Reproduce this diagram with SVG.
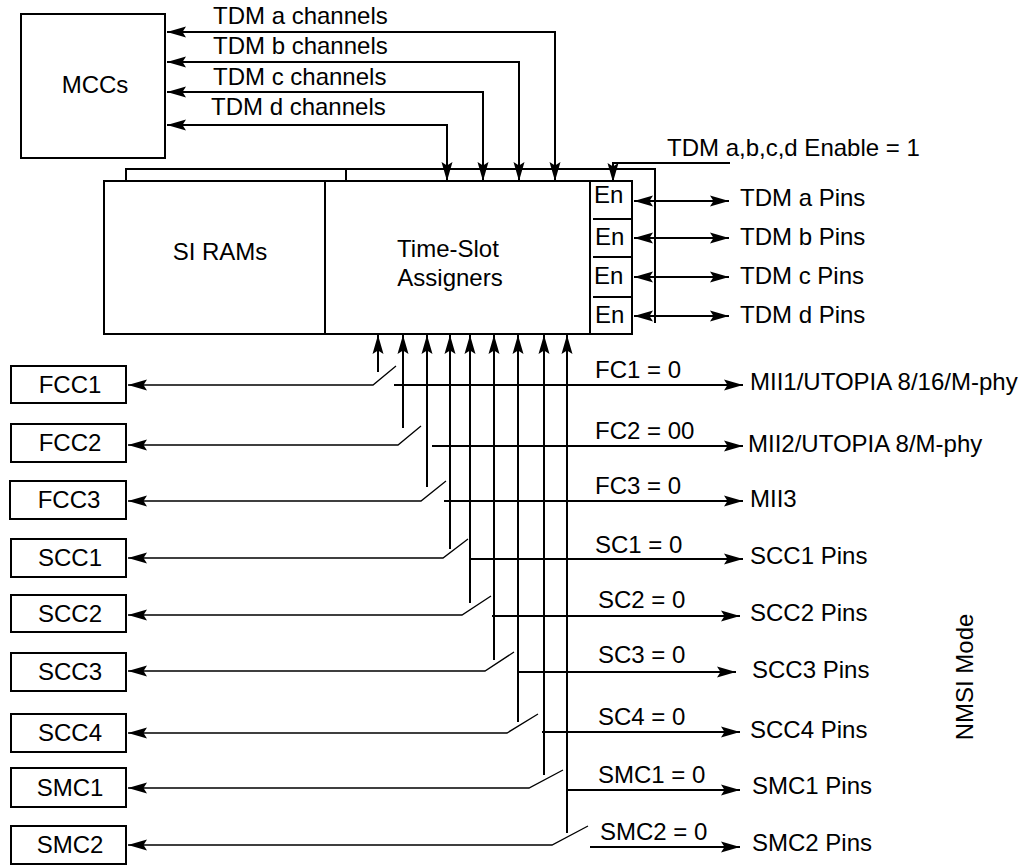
<svg xmlns="http://www.w3.org/2000/svg" width="1021" height="865" viewBox="0 0 1021 865">
<style>
text{font-family:"Liberation Sans",Arial,Helvetica,sans-serif;font-size:24px;fill:#000}
.box{fill:#fff;stroke:#000;stroke-width:2}
.ln{fill:none;stroke:#000;stroke-width:2}
.thin{fill:none;stroke:#000;stroke-width:1.3}
.mid{text-anchor:middle}
</style>
<defs>
<marker id="ah" markerUnits="userSpaceOnUse" markerWidth="20" markerHeight="12" refX="19" refY="6" orient="auto-start-reverse" viewBox="0 0 20 12">
<path d="M0,0.5 L19,6 L0,11.5 L3.5,6 Z" fill="#000"/>
</marker>
</defs>
<rect width="1021" height="865" fill="#fff"/>

<g id="mccs">
<rect class="box" x="21" y="14" width="144" height="144"/>
<text x="95" y="93" class="mid">MCCs</text>
</g>

<g id="main-block">
<rect class="box" x="104" y="181" width="528" height="153"/>
<line class="ln" x1="325" y1="181" x2="325" y2="334"/>
<line class="ln" x1="590" y1="181" x2="590" y2="334"/>
<text x="220" y="260" class="mid">SI RAMs</text>
<text x="448" y="257" class="mid">Time-Slot</text>
<text x="450" y="286" class="mid">Assigners</text>
</g>

<g id="enable-cells">
<line class="ln" x1="593" y1="219" x2="632" y2="219"/>
<line class="ln" x1="593" y1="257" x2="632" y2="257"/>
<line class="ln" x1="593" y1="297" x2="632" y2="297"/>
<text x="594" y="203">En</text>
<text x="595" y="245">En</text>
<text x="594" y="284">En</text>
<text x="595" y="323">En</text>
</g>

<g id="fcc1"><rect class="box" x="11" y="366" width="115" height="37"/><text x="70" y="393" class="mid">FCC1</text></g>
<g id="fcc2"><rect class="box" x="11" y="424" width="115" height="38"/><text x="70" y="451" class="mid">FCC2</text></g>
<g id="fcc3"><rect class="box" x="10" y="481" width="116" height="38"/><text x="69" y="508" class="mid">FCC3</text></g>
<g id="scc1"><rect class="box" x="11" y="539" width="115" height="38"/><text x="70" y="566" class="mid">SCC1</text></g>
<g id="scc2"><rect class="box" x="11" y="595" width="115" height="37"/><text x="70" y="622" class="mid">SCC2</text></g>
<g id="scc3"><rect class="box" x="11" y="653" width="115" height="38"/><text x="70" y="680" class="mid">SCC3</text></g>
<g id="scc4"><rect class="box" x="11" y="714" width="115" height="38"/><text x="70" y="741" class="mid">SCC4</text></g>
<g id="smc1"><rect class="box" x="11" y="768" width="115" height="39"/><text x="70" y="796" class="mid">SMC1</text></g>
<g id="smc2"><rect class="box" x="11" y="826" width="115" height="38"/><text x="70" y="853" class="mid">SMC2</text></g>

<g id="connectors">
<!-- TDM channels -->
<path class="ln" d="M167,32 H555 V181" marker-start="url(#ah)" marker-end="url(#ah)"/>
<path class="ln" d="M167,62 H519 V181" marker-start="url(#ah)" marker-end="url(#ah)"/>
<path class="ln" d="M167,92 H483 V181" marker-start="url(#ah)" marker-end="url(#ah)"/>
<path class="ln" d="M167,125 H447 V181" marker-start="url(#ah)" marker-end="url(#ah)"/>
<!-- bracket over block -->
<path class="ln" d="M126,181 V169 H655 V323"/>
<line class="ln" x1="346" y1="169" x2="346" y2="181"/>
<!-- enable -->
<path class="ln" d="M730,163 H613 V182" marker-end="url(#ah)"/>
<!-- TDM pins -->
<line class="ln" x1="634" y1="201" x2="729" y2="201" marker-start="url(#ah)" marker-end="url(#ah)"/>
<line class="ln" x1="634" y1="238" x2="729" y2="238" marker-start="url(#ah)" marker-end="url(#ah)"/>
<line class="ln" x1="634" y1="277" x2="729" y2="277" marker-start="url(#ah)" marker-end="url(#ah)"/>
<line class="ln" x1="634" y1="316" x2="729" y2="316" marker-start="url(#ah)" marker-end="url(#ah)"/>
<!-- verticals from TSA -->
<line class="ln" x1="378" y1="372" x2="378" y2="335" marker-end="url(#ah)"/>
<line class="ln" x1="403" y1="428" x2="403" y2="335" marker-end="url(#ah)"/>
<line class="ln" x1="427" y1="487" x2="427" y2="335" marker-end="url(#ah)"/>
<line class="ln" x1="450" y1="549" x2="450" y2="335" marker-end="url(#ah)"/>
<line class="ln" x1="470" y1="603" x2="470" y2="335" marker-end="url(#ah)"/>
<line class="ln" x1="494" y1="660" x2="494" y2="335" marker-end="url(#ah)"/>
<line class="ln" x1="518" y1="722" x2="518" y2="335" marker-end="url(#ah)"/>
<line class="ln" x1="544" y1="775" x2="544" y2="335" marker-end="url(#ah)"/>
<line class="ln" x1="567" y1="833" x2="567" y2="335" marker-end="url(#ah)"/>
<!-- switch arms to peripherals -->
<path class="thin" d="M396,366 L373,385 H128" marker-end="url(#ah)"/>
<path class="thin" d="M421,426 L398,445 H128" marker-end="url(#ah)"/>
<path class="thin" d="M446,481 L421,501 H128" marker-end="url(#ah)"/>
<path class="thin" d="M468,539 L443,558 H128" marker-end="url(#ah)"/>
<path class="thin" d="M491,596 L462,615 H128" marker-end="url(#ah)"/>
<path class="thin" d="M514,652 L485,671 H128" marker-end="url(#ah)"/>
<path class="thin" d="M538,714 L507,733 H128" marker-end="url(#ah)"/>
<path class="thin" d="M563,770 L529,788 H128" marker-end="url(#ah)"/>
<path class="thin" d="M588,826 L552,845 H128" marker-end="url(#ah)"/>
<!-- outputs to pins -->
<line class="ln" x1="394" y1="385" x2="743" y2="385" marker-end="url(#ah)"/>
<line class="ln" x1="432" y1="446" x2="743" y2="446" marker-end="url(#ah)"/>
<line class="ln" x1="444" y1="501" x2="743" y2="501" marker-end="url(#ah)"/>
<line class="ln" x1="471" y1="559" x2="743" y2="559" marker-end="url(#ah)"/>
<line class="ln" x1="492" y1="616" x2="740" y2="616" marker-end="url(#ah)"/>
<line class="ln" x1="518" y1="672" x2="736" y2="672" marker-end="url(#ah)"/>
<line class="ln" x1="542" y1="732" x2="740" y2="732" marker-end="url(#ah)"/>
<line class="ln" x1="566" y1="790" x2="740" y2="790" marker-end="url(#ah)"/>
<line class="ln" x1="590" y1="847" x2="740" y2="847" marker-end="url(#ah)"/>
</g>

<g id="labels">
<text x="213" y="24">TDM a channels</text>
<text x="213" y="54">TDM b channels</text>
<text x="213" y="85">TDM c channels</text>
<text x="211" y="115">TDM d channels</text>
<text x="667" y="156">TDM a,b,c,d Enable = 1</text>
<text x="740" y="206">TDM a Pins</text>
<text x="740" y="245">TDM b Pins</text>
<text x="740" y="284">TDM c Pins</text>
<text x="740" y="323">TDM d Pins</text>
<text x="595" y="378">FC1 = 0</text>
<text x="595" y="439">FC2 = 00</text>
<text x="595" y="494">FC3 = 0</text>
<text x="595" y="553">SC1 = 0</text>
<text x="598" y="608">SC2 = 0</text>
<text x="598" y="663">SC3 = 0</text>
<text x="598" y="725">SC4 = 0</text>
<text x="598" y="783">SMC1 = 0</text>
<text x="600" y="840">SMC2 = 0</text>
<text x="750" y="390">MII1/UTOPIA 8/16/M-phy</text>
<text x="748" y="452">MII2/UTOPIA 8/M-phy</text>
<text x="750" y="507">MII3</text>
<text x="750" y="564">SCC1 Pins</text>
<text x="750" y="621">SCC2 Pins</text>
<text x="752" y="678">SCC3 Pins</text>
<text x="750" y="738">SCC4 Pins</text>
<text x="752" y="794">SMC1 Pins</text>
<text x="752" y="851">SMC2 Pins</text>
<text transform="rotate(-90)" x="-677" y="973" class="mid">NMSI Mode</text>
</g>
</svg>
